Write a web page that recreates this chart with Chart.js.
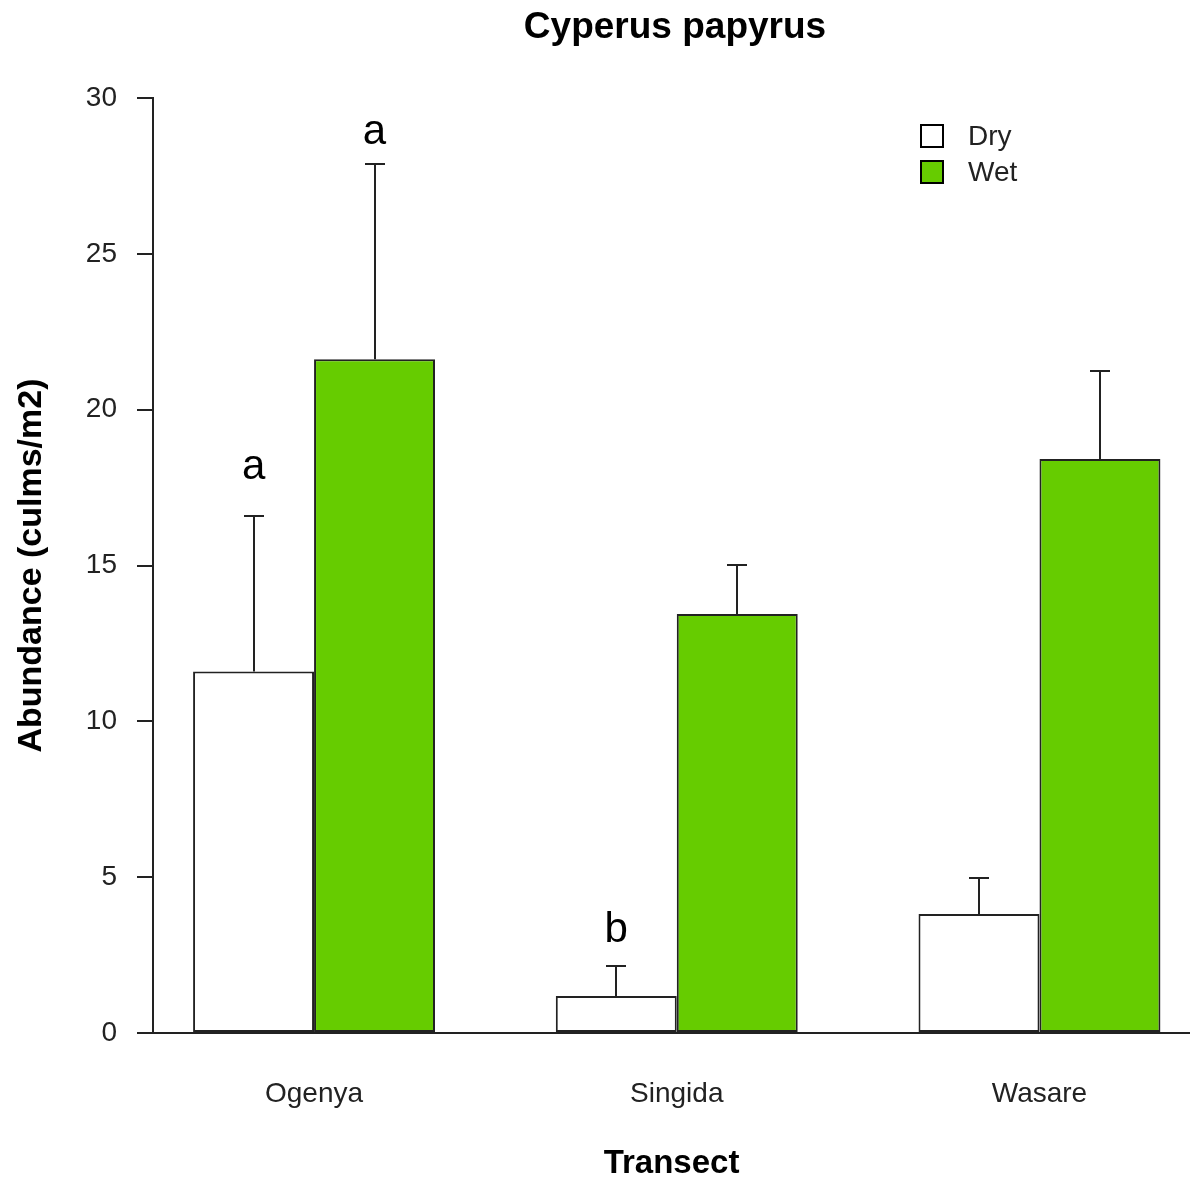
<!DOCTYPE html>
<html>
<head>
<meta charset="utf-8">
<script src="https://cdn.jsdelivr.net/npm/chart.js@4/dist/chart.umd.min.js"></script>
<style>
  html, body { margin: 0; padding: 0; background: #ffffff; }
  #wrap { width: 1190px; height: 1179px; }
</style>
</head>
<body>
<div id="wrap"><canvas id="chart"></canvas></div>
<script>
// Papyrus culm abundance per transect, dry vs wet season (mean + SE)
const categories = ['Ogenya', 'Singida', 'Wasare'];
const seriesNames = ['Dry', 'Wet'];
const dryMean = [11.6, 1.19, 3.82];
const wetMean = [21.62, 13.44, 18.42];
const drySE = [4.99, 0.96, 1.15];
const wetSE = [6.26, 1.58, 2.82];
const yTicks = [0, 5, 10, 15, 20, 25, 30];

// Significance letters: text, series index, transect index, y value
const sigText = ['a', 'a', 'b'];
const sigSeries = [0, 1, 0];
const sigCategory = [0, 0, 1];
const sigAt = [18.15, 28.9, 3.3];

const FONT = '"Liberation Sans", Arial, Helvetica, sans-serif';
const INK = '#222222';
const fills = ['#ffffff', '#66cc00'];

Chart.defaults.font.family = FONT;
Chart.defaults.color = INK;

const means = [dryMean, wetMean];
const errors = [drySE, wetSE];

const extras = {
  id: 'extras',
  afterLayout(chart) {
    // centre the main title over the plotting region rather than the canvas
    if (chart.titleBlock) chart.titleBlock.left = 160;
  },
  afterDatasetsDraw(chart) {
    const { ctx, scales: { y } } = chart;
    ctx.save();

    // error bars (mean + SE) with caps
    ctx.strokeStyle = INK;
    ctx.lineWidth = 2;
    means.forEach((m, d) => {
      chart.getDatasetMeta(d).data.forEach((bar, i) => {
        const x = Math.round(bar.x);
        const yBar = y.getPixelForValue(m[i]);
        const yTop = y.getPixelForValue(m[i] + errors[d][i]);
        ctx.beginPath();
        ctx.moveTo(x, yBar);
        ctx.lineTo(x, yTop);
        ctx.moveTo(x - 10, yTop);
        ctx.lineTo(x + 10, yTop);
        ctx.stroke();
      });
    });

    // significance letters
    ctx.fillStyle = '#000000';
    ctx.font = '42px ' + FONT;
    ctx.textAlign = 'center';
    ctx.textBaseline = 'middle';
    sigText.forEach((t, k) => {
      const bar = chart.getDatasetMeta(sigSeries[k]).data[sigCategory[k]];
      ctx.fillText(t, bar.x, y.getPixelForValue(sigAt[k]));
    });

    // legend
    ctx.font = '28px ' + FONT;
    ctx.textAlign = 'left';
    ctx.lineWidth = 2;
    seriesNames.forEach((name, k) => {
      const cy = 136 + k * 36;
      ctx.fillStyle = fills[k];
      ctx.fillRect(921, cy - 11, 22, 22);
      ctx.strokeStyle = '#000000';
      ctx.strokeRect(921, cy - 11, 22, 22);
      ctx.fillStyle = INK;
      ctx.fillText(name, 968, cy + 1);
    });

    ctx.restore();
  }
};

new Chart(document.getElementById('chart'), {
  type: 'bar',
  data: {
    datasets: seriesNames.map((name, d) => ({
      label: name,
      data: categories.map((c, i) => ({ x: i, y: means[d][i] })),
      backgroundColor: fills[d],
      borderColor: INK,
      borderWidth: 2,
      borderSkipped: false,
      categoryPercentage: 0.667,
      barPercentage: 1.0
    }))
  },
  options: {
    responsive: true,
    maintainAspectRatio: false,
    animation: false,
    layout: { padding: 0 },
    plugins: {
      legend: { display: false },
      tooltip: { enabled: false },
      title: {
        display: true,
        text: 'Cyperus papyrus',
        color: '#000000',
        font: { size: 37, weight: 'bold' },
        padding: { top: 6, bottom: 47.6 }
      }
    },
    scales: {
      x: {
        type: 'linear',
        position: 'bottom',
        offset: false,
        min: -0.444,
        max: 2.415,
        afterBuildTicks: (axis) => { axis.ticks = categories.map((c, i) => ({ value: i })); },
        afterFit: (axis) => { axis.height = 146; },
        ticks: {
          callback: (v) => categories[v] ?? '',
          font: { size: 28 },
          color: INK,
          padding: 36,
          maxRotation: 0,
          autoSkip: false
        },
        grid: { display: false, offset: false },
        border: { display: true, color: INK, width: 2 },
        title: {
          display: true,
          text: 'Transect',
          color: '#000000',
          font: { size: 33, weight: 'bold', lineHeight: 0.9 },
          padding: { top: 0, bottom: 0 }
        }
      },
      y: {
        min: 0,
        max: 30,
        afterBuildTicks: (axis) => { axis.ticks = yTicks.map(v => ({ value: v })); },
        afterFit: (axis) => { axis.width = 153; },
        ticks: {
          font: { size: 28 },
          color: INK,
          padding: 20
        },
        grid: {
          drawOnChartArea: false,
          drawTicks: true,
          tickLength: 16,
          color: INK,
          lineWidth: 2
        },
        border: { display: true, color: INK, width: 2 },
        title: {
          display: true,
          text: 'Abundance (culms/m2)',
          color: '#000000',
          font: { size: 34, weight: 'bold', lineHeight: 1 },
          padding: { top: 15, bottom: 0 }
        }
      }
    }
  },
  plugins: [extras]
});
</script>
</body>
</html>
